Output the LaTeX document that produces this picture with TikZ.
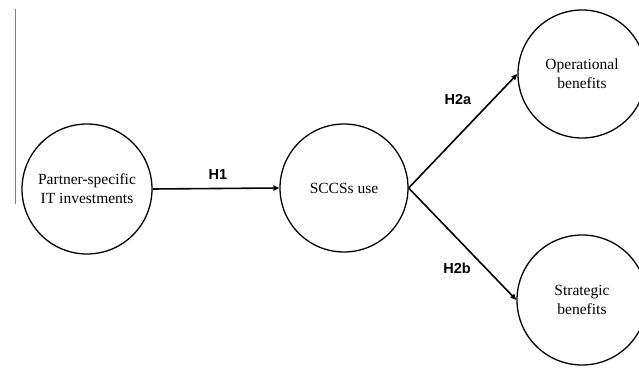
\documentclass[tikz,border=0pt]{standalone}
\usepackage{fontspec}
\setmainfont{Liberation Serif}
\setsansfont{Liberation Sans}
\usetikzlibrary{arrows.meta}
\begin{document}
\begin{tikzpicture}[x=1pt,y=1pt,
  construct/.style={circle,draw,line width=1.3pt,minimum size=130pt,inner sep=0pt,align=center,font=\fontsize{15.5}{19}\selectfont},
  path/.style={line width=1.6pt,-{Triangle[length=6pt,width=5pt]}},
  hlabel/.style={font=\sffamily\bfseries\fontsize{14.5}{16}\selectfont}]
\useasboundingbox (0,0) rectangle (639,367);
\draw[gray,line width=0.8pt] (15,358) -- (15,163);
\node[construct] (pit) at (87,178) {Partner-specific\\IT investments};
\node[construct,minimum size=128pt] (use) at (344,179) {SCCSs use};
\node[construct,minimum size=128pt] (op) at (582,293) {Operational\\benefits};
\node[construct] (st) at (582,67) {Strategic\\benefits};
\draw[path] (pit.east) -- (use.west);
\draw[path] (use.east) -- (op.west);
\draw[path] (use.east) -- (st.west);
\node[hlabel] (h1) at (218,192) {H1};
\node[hlabel] (h2a) at (458,267) {H2a};
\node[hlabel] (h2b) at (457,99) {H2b};
\end{tikzpicture}
\end{document}
